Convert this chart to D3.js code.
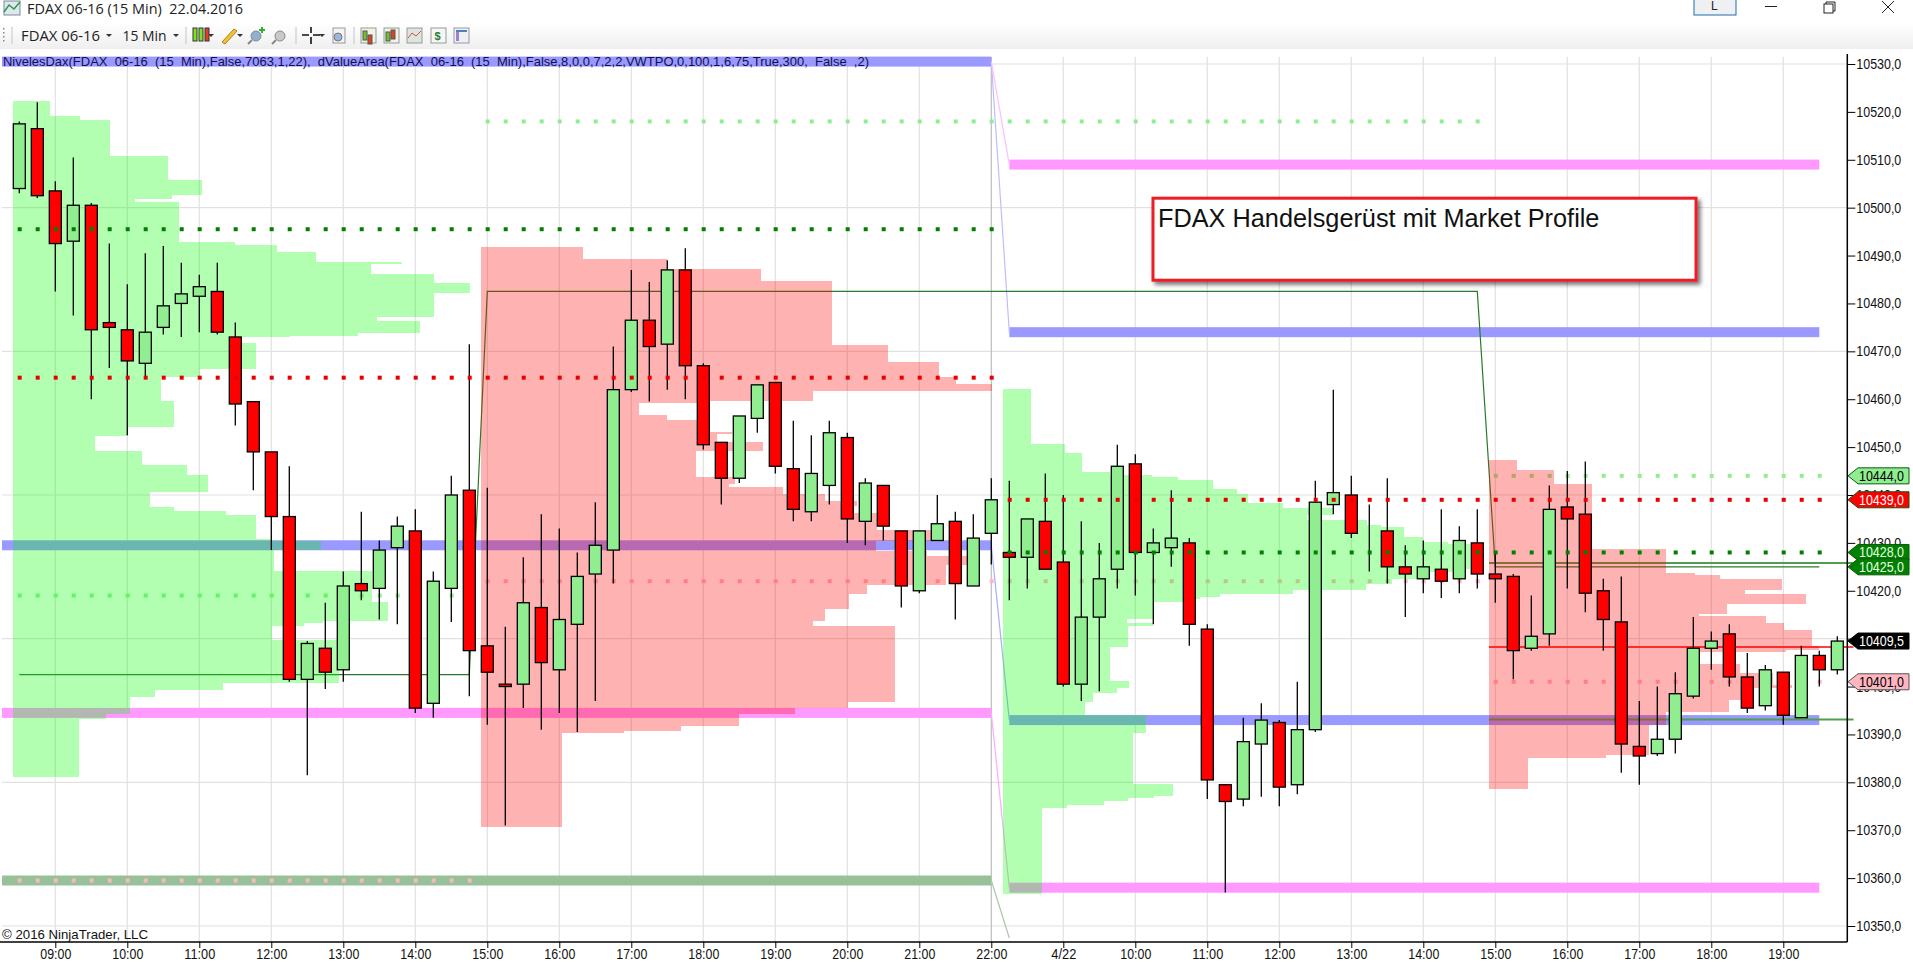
<!DOCTYPE html>
<html><head><meta charset="utf-8"><title>FDAX 06-16</title>
<script src="https://cdn.jsdelivr.net/npm/d3@7/dist/d3.min.js"></script>
<style>html,body{margin:0;padding:0;background:#fff;overflow:hidden}svg{display:block}text{font-family:"Liberation Sans",Arial,sans-serif;white-space:pre}</style>
</head><body><svg id="c" width="1913" height="974"></svg>
<script>
// ---- candles (15 min bars, index 0 = 08:30) ----
const open=[10504,10516.5,10503.5,10493,10500.5,10476,10474.5,10467.5,10475,10480,10481.5,10482.5,10473,10459.5,10449,10435.5,10401.5,10408,10403.5,10421.5,10420.5,10429,10432.5,10396.5,10420.5,10441,10408.5,10400.5,10400.5,10416.5,10403.5,10413,10423.5,10428.5,10462,10476.5,10471.5,10487,10467,10451,10443.5,10456,10463.5,10445.5,10436.5,10442,10452,10434.5,10442,10432.5,10420,10430.5,10434.5,10421,10432,10428,10427,10434.5,10426,10400.5,10414.5,10424.5,10446.5,10428,10429,10430,10412,10379.5,10376.5,10388,10392.5,10379.5,10391,10438,10440,10432,10432.5,10425,10422.5,10424.5,10422.5,10430,10423.5,10423,10408,10411,10437.5,10436,10420,10413.5,10387.5,10386,10389,10398,10408,10411,10402,10396,10403,10393.5,10406.5,10403.5];
const high=[10518,10522,10505.5,10510.5,10501,10492.5,10484,10490.5,10492,10488.5,10486,10488.5,10476,10459.5,10449,10446,10409.5,10417.5,10424,10436.5,10430.5,10435.5,10437,10424,10444,10471.5,10441.5,10412.5,10427,10436,10433,10428,10438.5,10471,10487,10484.5,10489,10491.5,10467.5,10451,10456.5,10463,10463.5,10455.5,10452.5,10455.5,10453,10443.5,10442,10432.5,10432.5,10440,10436.5,10436,10443.5,10443,10435,10444.5,10440,10434.5,10430,10450.5,10448.5,10433,10441,10431,10413,10379.5,10393.5,10396.5,10393,10401,10443,10462,10444,10438,10443.5,10429.5,10430.5,10437,10433.5,10437,10428,10423.5,10419,10442,10445,10447,10422.5,10423,10397,10400,10403,10414.5,10411.5,10413,10407,10404.5,10403,10408.5,10407.5,10410.5];
const low=[10503,10502,10482.5,10477.5,10460,10466.5,10452.5,10464.5,10473.5,10473,10474,10473.5,10454.5,10441,10428.5,10401,10381.5,10399.5,10401,10418,10414,10413,10394.5,10393.5,10413.5,10398,10392,10371,10395.5,10391,10394.5,10390.5,10397,10421.5,10461.5,10459.5,10462,10460,10449.5,10438,10442.5,10453,10444.5,10434.5,10434.5,10438,10430,10429.5,10430.5,10416.5,10419.5,10430.5,10414,10421,10425.5,10418,10420.5,10424.5,10400,10397,10399,10420.5,10419,10413,10425,10408.5,10376.5,10357,10375,10377,10375,10377.5,10390.5,10436,10431,10424,10421.5,10414.5,10419.5,10418.5,10419.5,10420.5,10417.5,10401.5,10407.5,10408.5,10420.5,10415.5,10407.5,10382,10379.5,10385.5,10386,10397.5,10403.5,10400,10394.5,10395,10392,10393.5,10400,10402.5];
const close=[10517.5,10502.5,10492.5,10500.5,10474.5,10475,10468,10474,10479.5,10482,10483.5,10474,10459,10449,10435.5,10401.5,10409,10403,10421,10420,10428.5,10433.5,10395.5,10422,10440,10407.5,10403,10400,10417.5,10405,10414,10423,10429.5,10462,10476.5,10471,10487,10467,10450.5,10443.5,10456.5,10463,10446,10437,10444.5,10453,10435,10442.5,10433.5,10421,10432.5,10434,10421.5,10431,10439,10427,10435,10424.5,10400.5,10414.5,10422.5,10446,10428,10430,10431,10413,10380.5,10376,10388.5,10393,10379,10391,10438.5,10440.5,10432,10432,10425,10423.5,10425,10422,10430.5,10423.5,10422.5,10407.5,10410.5,10437,10435,10419.5,10414,10388,10385.5,10389,10398.5,10408,10409.5,10402,10395.5,10403.5,10394,10406.5,10403.5,10409.5];
// ---- axes ----
const priceTicks=[10530,10520,10510,10500,10490,10480,10470,10460,10450,10440,10430,10420,10410,10400,10390,10380,10370,10360,10350];
const gridPrices=[10530,10500,10470,10440,10410,10380,10350];
const timeBars=[2,6,10,14,18,22,26,30,34,38,42,46,50,54,58,62,66,70,74,78,82,86,90,94,98];
const timeLabels=["09:00","10:00","11:00","12:00","13:00","14:00","15:00","16:00","17:00","18:00","19:00","20:00","21:00","22:00","4/22","10:00","11:00","12:00","13:00","14:00","15:00","16:00","17:00","18:00","19:00"];
// ---- market profiles: price edges (top to bottom), right end of each level in bar units ----
const profile1Edges=[10522.2,10519.07,10518.23,10510.72,10505.7,10502.57,10501.74,10501.11,10492.76,10492.13,10490.67,10488.58,10488.16,10486.08,10484.2,10482.11,10477.1,10476.26,10473.76,10473.13,10472.92,10471.67,10466.24,10464.57,10459.56,10454.13,10452.25,10449.12,10446.19,10444.11,10440.56,10437.42,10436.59,10435.75,10430.74,10430.32,10428.44,10424.06,10417.59,10413.62,10413.2,10412.57,10409.65,10400.67,10399.21,10397.75,10394.2,10393.16,10381.04];
const profile1Ends=[1.71,3.37,5.04,8.26,10.15,8.48,6.43,8.87,11.98,14.32,16.48,21.26,19.54,23.04,25.03,23.04,19.87,22.26,18.81,15.04,12.32,13.15,10.04,7.87,8.59,6.04,4.2,6.82,9.32,10.48,7.26,8.59,11.48,13.15,14.04,16.76,14.15,19.59,20.48,16.87,15.82,14.04,17.76,11.32,7.54,6.15,4.82,3.32];
const profile2Edges=[10491.71,10489.21,10487.12,10484.61,10471.25,10467.7,10464.57,10463.11,10461.65,10459.56,10459.14,10456.63,10455.59,10453.08,10452.67,10451.06,10449.12,10443.75,10442.23,10441.6,10440.14,10438.68,10437.63,10436.17,10432.62,10430.39,10428.3,10427.19,10425.31,10421.14,10419.4,10416.19,10413.68,10412.57,10396.77,10395.45,10394.2,10391.69,10390.71,10390.3,10370.67];
const profile2Ends=[31.32,35.98,41.2,45.15,48.26,51.09,52.04,54.04,44.09,37.98,34.43,35.98,38.37,39.59,38.76,41.32,37.59,39.76,39.43,42.43,44.76,46.54,46.32,47.65,50.71,47.59,50.43,52.65,51.48,47.09,46.09,44.76,44.09,48.65,46.04,43.09,39.98,36.76,33.59,30.15];
const profile3Edges=[10462.06,10450.58,10448.7,10444.73,10444.11,10443.69,10443.06,10441.18,10440.14,10438.26,10437.21,10435.75,10434.71,10433.66,10433.25,10431.16,10430.11,10429.7,10424.62,10424,10422.54,10421.34,10420.09,10419.26,10418.69,10418.21,10417.65,10414.18,10413.26,10412.64,10408.25,10401.09,10399.63,10398.65,10396.77,10393.99,10390.3,10379.73,10377.08,10376.81,10376.1,10375.2,10374.57,10356.76];
const profile3Ends=[56.21,58.09,59.04,60.59,62.93,64.37,66.32,67.65,68.26,70.2,72.98,71.54,74.87,75.65,76.93,77.98,79.37,80.6,79.82,77.98,76.26,74.82,70.76,66.71,65.59,64.65,63.03,61.54,62.98,61.59,60.59,61.65,60.98,59.65,59.2,62.59,61.87,64.09,63.03,61.59,60.26,58.21,56.82];
const profile4Edges=[10447.24,10445.15,10442.23,10428.65,10423.7,10423.22,10422.54,10420.09,10419.26,10417.17,10415.08,10414.66,10413.2,10411.74,10408.55,10407.71,10407.29,10404.64,10402.76,10400.26,10399.63,10397.12,10394.62,10391.9,10385.64,10385.01,10378.6];
const profile4Ends=[83.21,85.26,87.37,91.48,93.09,94.48,97.93,95.87,99.26,94.87,93.32,97.04,98.04,99.59,99.98,98.15,93.37,95.59,97.43,98.48,96.09,94.98,91.48,90.54,88.15,83.82];
const profileStarts=[-0.35,25.64,54.65,81.65];
// ---- levels: [price, first bar, last bar] ----
const blueBands=[[10530.5,-0.96,54],[10429.5,-0.96,54],[10474,55,100],[10393,55,100]];
const pinkBands=[[10394.5,-0.96,54],[10509,55,100],[10358,55,100]];
const greenBands=[[10359.5,-0.96,54]];
const darkGreenDots=[[10495.5,0,54],[10428,55,100]];
const redDots=[[10464.5,0,54],[10439,55,100]];
const lightGreenDots=[[10419,0,25],[10518,26,81],[10444,82,100]];
const paleRedDots=[[10359.5,0,25],[10422,26,81],[10401,82,100]];
// ---- thin lines: [bar, price] ----
const stepLine=[[0,10402.5],[25,10402.5],[26,10482.5],[81,10482.5],[82,10425],[100,10425]];
const blueRamp1=[[54,10530.5],[55,10474]];
const pinkRamp1=[[54,10530.5],[55,10509]];
const blueRamp2=[[54,10429.5],[55,10393]];
const pinkRamp2=[[54,10394.5],[55,10358]];
const greenRamp=[[54,10359.5],[55,10347.5]];
const lastLines=[[10425.8,"#4f9f4f"],[10408.25,"#ff4040"],[10393.1,"#4f9f4f"]];
const lastLineBars=[81.65,101.9];
// ---- price tags ----
const tagPrices=[10444,10439,10428,10425,10409.5,10401];
const tagFills=["#90ee90","#ff0000","#008000","#008000","#000000","#ffb6c1"];
const tagText=["#000","#fff","#e8ffe8","#e8ffe8","#fff","#000"];
// ---- texts ----
const indicatorText="NivelesDax(FDAX  06-16  (15  Min),False,7063,1,22),  dValueArea(FDAX  06-16  (15  Min),False,8,0,0,7,2,2,VWTPO,0,100,1,6,75,True,300,  False  ,2)";
const noteText="FDAX Handelsgerüst mit Market Profile";

const svg=d3.select("#c");
const x=d3.scaleLinear().domain([0,100]).range([19.3,1819.3]);
const y=d3.scaleLinear().domain([10350,10530]).range([926,64]);
const fx=n=>String(n.toFixed(1)).replace(".",",");
const defs=svg.append("defs");
const grad=defs.append("linearGradient").attr("id","tb").attr("x1",0).attr("x2",0).attr("y1",0).attr("y2",1);
grad.append("stop").attr("offset",0).attr("stop-color","#ffffff");
grad.append("stop").attr("offset",1).attr("stop-color","#efefef");
const sh=defs.append("filter").attr("id","sh").attr("x","-5%").attr("y","-15%").attr("width","110%").attr("height","130%");
sh.append("feDropShadow").attr("dx",3).attr("dy",3).attr("stdDeviation",2.2).attr("flood-color","#000").attr("flood-opacity",0.55);

// grid
const grid=svg.append("g");
grid.selectAll("line.h").data(gridPrices).join("line").attr("class","h").attr("x1",2).attr("x2",1847).attr("y1",d=>y(d)).attr("y2",d=>y(d)).attr("stroke","#e1e1e1").attr("stroke-width",1.2);
grid.selectAll("line.v").data(timeBars).join("line").attr("class","v").attr("x1",d=>x(d)).attr("x2",d=>x(d)).attr("y1",57).attr("y2",942).attr("stroke",d=>d===54?"#bdbdbd":"#e1e1e1").attr("stroke-width",1.2);

// level bands below the profiles
function bands(list,color){svg.append("g").selectAll("rect").data(list).join("rect").attr("x",d=>x(d[1])).attr("width",d=>x(d[2])-x(d[1])).attr("y",d=>y(d[0])-5).attr("height",10).attr("fill",color);}
bands(blueBands,"rgb(153,153,255)");
bands(pinkBands,"rgb(255,153,255)");
bands(greenBands,"rgb(153,193,153)");

// ramps and lines
const lineGen=d3.line().x(d=>x(d[0])).y(d=>y(d[1]));
function ramp(data,color,w){svg.append("path").attr("d",lineGen(data)).attr("fill","none").attr("stroke",color).attr("stroke-width",w);}
ramp(blueRamp1,"rgb(190,190,255)",1.2);
ramp(pinkRamp1,"rgb(255,190,255)",1.2);
ramp(blueRamp2,"rgb(170,170,255)",1.2);
ramp(pinkRamp2,"rgb(255,170,255)",1.2);
ramp(greenRamp,"rgb(170,200,170)",1.2);
ramp(stepLine,"#2a7a2a",1.2);
svg.append("g").selectAll("line").data(lastLines).join("line").attr("x1",x(lastLineBars[0])).attr("x2",x(lastLineBars[1])).attr("y1",d=>y(d[0])).attr("y2",d=>y(d[0])).attr("stroke",d=>d[1]).attr("stroke-width",2);

// pale dots below the profiles
function dots(list,color){const pts=[];list.forEach(l=>d3.range(l[1],l[2]+1).forEach(b=>pts.push([b,l[0]])));
 return svg.append("g").selectAll("rect").data(pts).join("rect").attr("x",d=>x(d[0])-1.6).attr("y",d=>y(d[1])-2).attr("width",4).attr("height",4).attr("fill",color);}
dots(lightGreenDots,"#90ee90");
dots(paleRedDots,"#ffb6c1");

// profiles: every level goes into one path, so the translucent fill is painted once
function profile(edges,ends,start,color){
 const p=d3.path();
 ends.forEach((e,i)=>{const t=Math.round(y(edges[i])),b=Math.round(y(edges[i+1]));if(b>t)p.rect(x(start),t,x(e)-x(start),b-t);});
 svg.append("path").attr("d",p.toString()).attr("fill",color).attr("shape-rendering","crispEdges");}
const GREEN="rgba(0,255,0,0.3)",RED="rgba(255,0,0,0.3)";
profile(profile1Edges,profile1Ends,profileStarts[0],GREEN);
profile(profile2Edges,profile2Ends,profileStarts[1],RED);
profile(profile3Edges,profile3Ends,profileStarts[2],GREEN);
profile(profile4Edges,profile4Ends,profileStarts[3],RED);

// candles
const bars=close.map((c,i)=>({i,o:open[i],h:high[i],l:low[i],c}));
const cg=svg.append("g");
cg.selectAll("line").data(bars).join("line").attr("x1",d=>x(d.i)).attr("x2",d=>x(d.i)).attr("y1",d=>y(d.h)).attr("y2",d=>y(d.l)).attr("stroke","#000").attr("stroke-width",1.3);
cg.selectAll("rect").data(bars).join("rect").attr("x",d=>x(d.i)-6).attr("width",12).attr("y",d=>y(Math.max(d.o,d.c))).attr("height",d=>Math.abs(y(d.o)-y(d.c))).attr("fill",d=>d.c>=d.o?"#90ee90":"#ff0000").attr("stroke","#000").attr("stroke-width",1.3);

// strong dots above the candles
dots(darkGreenDots,"#007f00");
dots(redDots,"#e60000");

// axes
const ax=svg.append("g").attr("transform","translate(1847.3,0)").call(d3.axisRight(y).tickValues(priceTicks).tickSize(8).tickPadding(1).tickFormat(fx));
ax.select(".domain").attr("d","M0,54V942").attr("stroke","#000").attr("stroke-width",1.5);
ax.selectAll("text").attr("font-size",14).attr("font-family","Liberation Sans").attr("fill","#111").attr("textLength",45).attr("lengthAdjust","spacingAndGlyphs");
const bx=svg.append("g").attr("transform","translate(0,942)").call(d3.axisBottom(x).tickValues(timeBars).tickSize(6).tickPadding(1).tickFormat((d,i)=>timeLabels[i]));
bx.select(".domain").attr("d","M0,0H1847.3").attr("stroke","#000").attr("stroke-width",1.5);
bx.selectAll("text").attr("font-size",14).attr("font-family","Liberation Sans").attr("fill","#111").attr("textLength",(d,i)=>timeLabels[i].length>4?31:25).attr("lengthAdjust","spacingAndGlyphs");

// price tags
const tg=svg.append("g").selectAll("g").data(tagPrices).join("g").attr("transform",d=>`translate(0,${y(d)})`);
tg.append("path").attr("d","M1848,0L1858,-8H1909V8H1858Z").attr("fill",(d,i)=>tagFills[i]).attr("stroke",(d,i)=>i==4?"#000":i==5?"#555":"#0a5a0a").attr("stroke-width",1);
tg.append("text").attr("x",1859).attr("y",5).attr("font-size",14).attr("textLength",45).attr("lengthAdjust","spacingAndGlyphs").attr("fill",(d,i)=>tagText[i]).text(fx);

// annotation
svg.append("rect").attr("x",1153).attr("y",198.2).attr("width",543).attr("height",82).attr("fill","#fff").attr("stroke","#ee1c25").attr("stroke-width",3).attr("filter","url(#sh)");
svg.append("text").attr("x",1158).attr("y",227).attr("font-size",25.3).attr("fill","#111").text(noteText);

// labels
svg.append("text").attr("x",3).attr("y",66).attr("font-size",13).attr("fill","#101050").attr("textLength",866).attr("lengthAdjust","spacingAndGlyphs").text(indicatorText);
svg.append("text").attr("x",2).attr("y",939).attr("font-size",13.5).attr("fill","#111").attr("textLength",146).attr("lengthAdjust","spacingAndGlyphs").text("© 2016 NinjaTrader, LLC");

// window chrome
svg.append("rect").attr("x",0).attr("y",23).attr("width",1913).attr("height",26).attr("fill","url(#tb)");
const sans='"Open Sans","Noto Sans",sans-serif';
function label(t,px,py,fs,len){svg.append("text").attr("x",px).attr("y",py).attr("font-size",fs).attr("fill","#222").style("font-family",sans).attr("textLength",len).attr("lengthAdjust","spacingAndGlyphs").text(t);}
label("FDAX 06-16 (15 Min)  22.04.2016",27,14,14,216);
label("FDAX 06-16",21,41,15,79);
label("15 Min",122.5,41,15,44);
function rect(a,b,w,h,f,s){svg.append("rect").attr("x",a).attr("y",b).attr("width",w).attr("height",h).attr("fill",f).attr("stroke",s||"none");}
// title icon
rect(4,1,16,14,"#dfe6ee","#7a8a9a");svg.append("path").attr("d","M4,12L9,5L14,9L20,2").attr("stroke","#2a9a50").attr("stroke-width",1.5).attr("fill","none");
// separators
[12,186,296,354].forEach(a=>svg.append("line").attr("x1",a).attr("x2",a).attr("y1",27).attr("y2",44).attr("stroke","#c4c4c4"));
d3.range(4).forEach(i=>rect(3,28+i*4,1.5,1.5,"#888"));
// carets
[109,176,211,240,322].forEach(a=>svg.append("path").attr("d",`M${a-3},34h6l-3,3z`).attr("fill","#333"));
// candle icon
[195,201,207].forEach((a,i)=>rect(a-2,28,4,13,i==2?"#e04020":"#80e020","#333"));
// pencil
svg.append("path").attr("d","M222,42L234,29L237,31L225,44Z").attr("fill","#f2c230").attr("stroke","#b08020");
// magnifiers
[[256,"#8fb0d0"],[280,"#c9c9c9"]].forEach(m=>{svg.append("circle").attr("cx",m[0]).attr("cy",36).attr("r",5).attr("fill",m[1]).attr("stroke","#8a8a8a");svg.append("line").attr("x1",m[0]-4).attr("y1",40).attr("x2",m[0]-8).attr("y2",44).attr("stroke","#888").attr("stroke-width",2);});
svg.append("path").attr("d","M262,27v6M259,30h6").attr("stroke","#30b030").attr("stroke-width",2);
// crosshair
svg.append("path").attr("d","M302,35h7M313,35h7M311,27v6M311,37v7").attr("stroke","#111").attr("stroke-width",1.6);
rect(333,28,12,15,"#f4f4f4","#999");svg.append("circle").attr("cx",338).attr("cy",37).attr("r",4).attr("fill","#9ab8d8").attr("stroke","#777");
// right toolbar icons
[[361,"#eef4e6"],[384,"#eef4e6"],[407,"#dde6dd"],[431,"#f4f8f4"],[454,"#eef0f8"]].forEach(m=>rect(m[0],28,15,15,m[1],"#999"));
[[363,31,"#70c030"],[368,35,"#e04020"],[386,32,"#70c030"],[391,30,"#e04020"]].forEach(m=>rect(m[0],m[1],4,9,m[2],"#555"));
svg.append("path").attr("d","M408,38L412,33L416,36L421,31").attr("stroke","#d05050").attr("fill","none");
svg.append("text").attr("x",434.5).attr("y",40).attr("font-size",11).attr("font-weight","bold").attr("fill","#2a7a3a").text("$");
rect(456,30,3,11,"#a080d0");rect(456,30,11,2,"#5080c0");
// window buttons
rect(1694,-2,42,17,"#eef0f2","#1c6db0");
svg.append("text").attr("x",1711).attr("y",10).attr("font-size",12).attr("fill","#222").text("L");
svg.append("line").attr("x1",1765).attr("x2",1777).attr("y1",6.5).attr("y2",6.5).attr("stroke","#222");
rect(1824,4,9,9,"none","#222");svg.append("path").attr("d","M1826,4V2H1835V11H1833").attr("fill","none").attr("stroke","#222");
svg.append("path").attr("d","M1882,1L1894,13M1894,1L1882,13").attr("stroke","#222").attr("fill","none");
</script></body></html>
